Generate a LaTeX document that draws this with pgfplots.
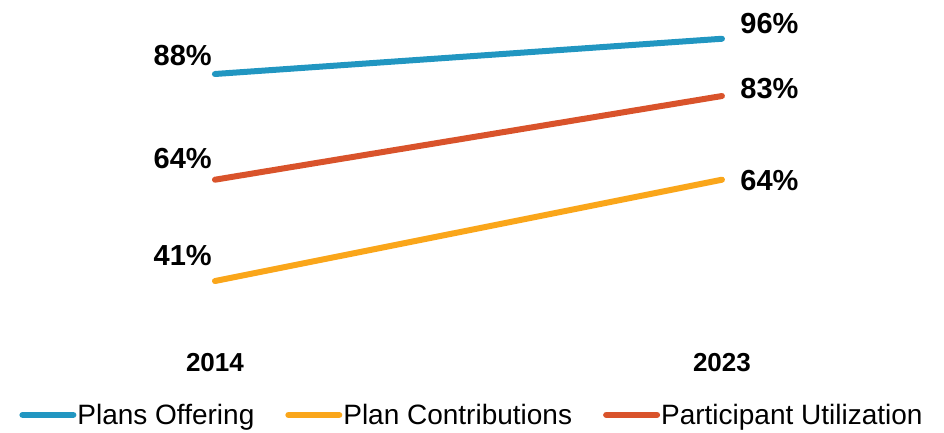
\documentclass[border=0pt]{standalone}
\usepackage{pgfplots}
\pgfplotsset{compat=1.18}
\usepackage{fontspec}
\setmainfont{Liberation Sans}
\definecolor{cblue}{RGB}{33,150,193}
\definecolor{corange}{RGB}{250,166,26}
\definecolor{cred}{RGB}{217,83,43}
\begin{document}
\begin{tikzpicture}
\begin{axis}[
  scale only axis, width=944pt, height=433pt,
  xmin=-0.424, xmax=1.438, ymin=6.5, ymax=104.8,
  hide axis, clip=false,
  legend columns=3,
  legend style={at={(axis cs:0.506,10.6)}, anchor=center, draw=none, fill=none,
    font=\fontsize{28}{30}\selectfont, inner sep=0pt,
    nodes={inner xsep=1pt, inner ysep=0pt},
    /tikz/every even column/.append style={column sep=30pt}},
  legend cell align=left,
  legend image code/.code={\draw[#1, line width=6.5pt, line cap=round] (3.25pt,0pt) -- (53.75pt,0pt);},
  every axis plot/.append style={line width=6pt, line cap=round, mark=none},
]
\addplot[cblue] coordinates {(0,88) (1,96)};
\addlegendentry{Plans Offering}
\addplot[corange] coordinates {(0,41) (1,64)};
\addlegendentry{Plan Contributions}
\addplot[cred] coordinates {(0,64) (1,83)};
\addlegendentry{Participant Utilization}
\begin{scope}[every node/.style={inner sep=0pt, font=\fontsize{29}{31}\selectfont\bfseries}]
\node[anchor=east] at (axis cs:-0.006,92.1) {88\%};
\node[anchor=east] at (axis cs:-0.006,68.9) {64\%};
\node[anchor=east] at (axis cs:-0.006,46.7) {41\%};
\node[anchor=west] at (axis cs:1.036,99.4) {96\%};
\node[anchor=west] at (axis cs:1.036,84.6) {83\%};
\node[anchor=west] at (axis cs:1.036,63.9) {64\%};
\end{scope}
\begin{scope}[every node/.style={inner sep=0pt, font=\fontsize{26}{28}\selectfont\bfseries}]
\node at (axis cs:0,22.6) {2014};
\node at (axis cs:1,22.6) {2023};
\end{scope}
\end{axis}
\pgfresetboundingbox
\useasboundingbox (current axis.south west) rectangle (current axis.north east);
\end{tikzpicture}
\end{document}
